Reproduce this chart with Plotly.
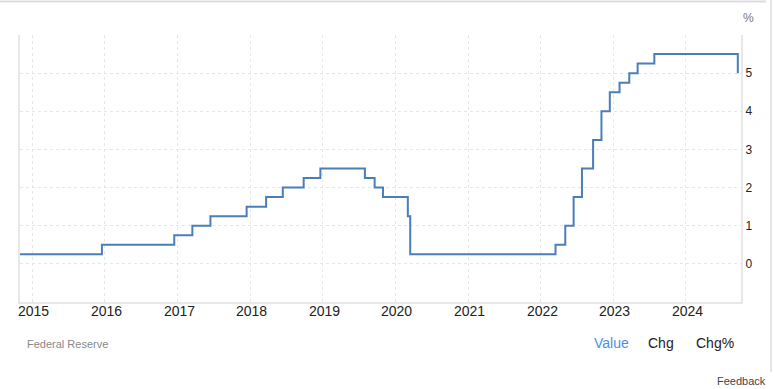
import plotly.graph_objects as go

# Federal funds target rate (upper bound), change dates
dates = [
    "2014-10-31", "2015-12-17", "2016-12-15", "2017-03-16", "2017-06-15",
    "2017-12-14", "2018-03-22", "2018-06-14", "2018-09-27", "2018-12-20",
    "2019-08-01", "2019-09-19", "2019-10-31", "2020-03-04", "2020-03-16",
    "2022-03-17", "2022-05-05", "2022-06-16", "2022-07-28", "2022-09-22",
    "2022-11-03", "2022-12-15", "2023-02-02", "2023-03-23", "2023-05-04",
    "2023-07-27", "2024-09-19",
]
rates = [
    0.25, 0.50, 0.75, 1.00, 1.25,
    1.50, 1.75, 2.00, 2.25, 2.50,
    2.25, 2.00, 1.75, 1.25, 0.25,
    0.50, 1.00, 1.75, 2.50, 3.25,
    4.00, 4.50, 4.75, 5.00, 5.25,
    5.50, 5.00,
]
year_ticks = ["2015-01-01", "2016-01-01", "2017-01-01", "2018-01-01", "2019-01-01",
              "2020-01-01", "2021-01-01", "2022-01-01", "2023-01-01", "2024-01-01"]
year_labels = ["2015", "2016", "2017", "2018", "2019",
               "2020", "2021", "2022", "2023", "2024"]
y_ticks = [-1, 0, 1, 2, 3, 4, 5, 6]
y_labels = ["", "0", "1", "2", "3", "4", "5", ""]
x_range = ["2014-10-31", "2024-10-05"]
source_label = "Federal Reserve"
unit_label = "%"
tabs = ["Value", "Chg", "Chg%"]

W, H = 773, 389
L, R, T, B = 20, 741, 35, 302
FONT = "Liberation Sans, Arial, sans-serif"


def px(x):
    return (x - L) / (R - L)


def py(y):
    return (B - y) / (B - T)


fig = go.Figure()
fig.add_trace(go.Scatter(
    x=dates, y=rates, mode="lines", line_shape="hv",
    line=dict(color="#4a7ebb", width=2), hoverinfo="x+y", showlegend=False,
))

grid = "#e6e6e6"
axis_line = "#e8e8e8"
fig.update_layout(
    width=W, height=H,
    margin=dict(l=L, r=W - R, t=T, b=H - B),
    paper_bgcolor="white", plot_bgcolor="white",
    font=dict(family=FONT, color="#333333"),
    xaxis=dict(
        type="date", range=x_range, tickmode="array", tickvals=year_ticks,
        showticklabels=False, showgrid=True, gridcolor=grid, griddash="dot",
        gridwidth=1, zeroline=False, showline=True, linecolor=axis_line,
        linewidth=2, ticks="",
    ),
    yaxis=dict(
        range=[-1, 6], side="right", tickmode="array", tickvals=y_ticks,
        ticktext=y_labels, showgrid=True, gridcolor=grid, griddash="dot",
        gridwidth=1, zeroline=False, showline=True, mirror=True,
        linecolor=axis_line, linewidth=2, ticks="",
        tickfont=dict(size=12, color="#222222"),
    ),
)

# year labels placed through the x scale, just under the axis line
for d, lab in zip(year_ticks, year_labels):
    fig.add_annotation(
        text=lab, x=d, xref="x", y=py(310.5), yref="paper", xshift=1.5,
        xanchor="center", yanchor="middle", showarrow=False,
        font=dict(size=14, color="#222222", family=FONT),
    )

ann = [
    dict(text=unit_label, x=px(748), y=py(18), size=12, color="#777777", xanchor="center"),
    dict(text=source_label, x=px(25), y=py(344), size=11, color="#888888", xanchor="left"),
    dict(text=tabs[0], x=px(611), y=py(343), size=14, color="#4a90e2", xanchor="center"),
    dict(text=tabs[1], x=px(661), y=py(343), size=14, color="#222222", xanchor="center"),
    dict(text=tabs[2], x=px(715), y=py(343), size=14, color="#222222", xanchor="center"),
    dict(text="Feedback", x=px(768), y=py(381), size=11, color="#444444", xanchor="right"),
]
for a in ann:
    fig.add_annotation(
        text=a["text"], x=a["x"], y=a["y"], xref="paper", yref="paper",
        xanchor=a["xanchor"], yanchor="middle", showarrow=False,
        font=dict(size=a["size"], color=a["color"], family=FONT),
    )

# outer frame lines (top and right border of the widget)
fig.add_shape(type="line", xref="paper", yref="paper",
              x0=px(0), x1=px(766), y0=py(1.5), y1=py(1.5),
              line=dict(color="#dddddd", width=2))
fig.add_shape(type="line", xref="paper", yref="paper",
              x0=px(771), x1=px(771), y0=py(0), y1=py(372),
              line=dict(color="#e6e6e6", width=2))

fig.write_html("out.html")
